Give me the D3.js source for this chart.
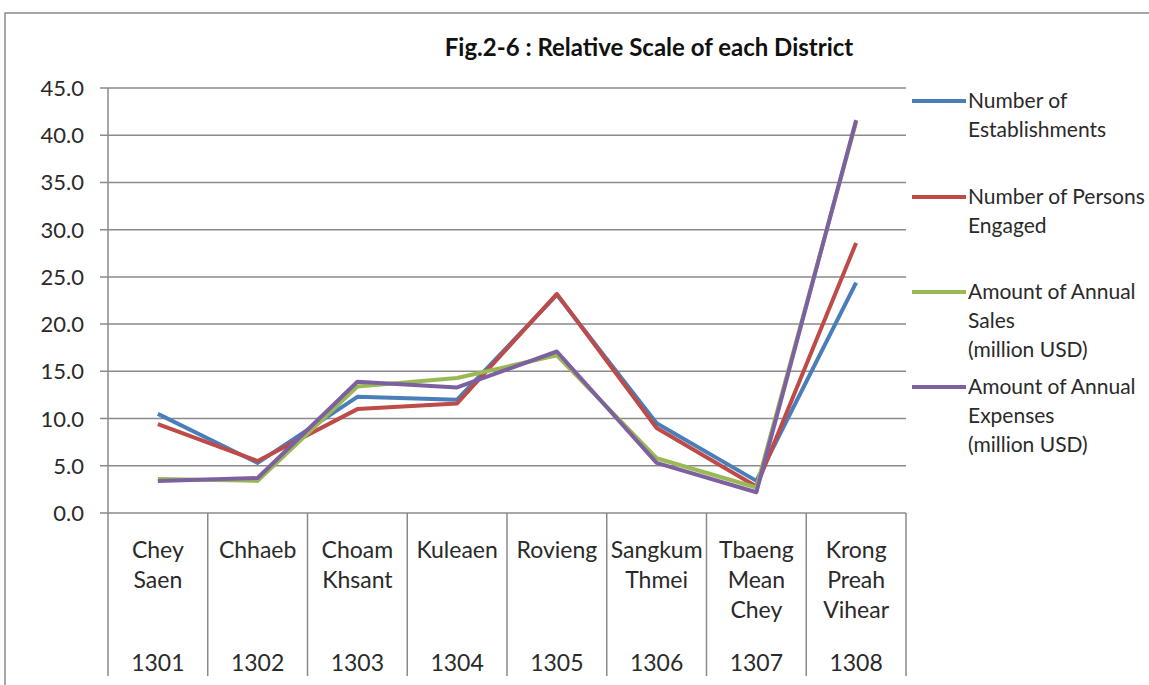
<!DOCTYPE html>
<html>
<head>
<meta charset="utf-8">
<script src="https://cdn.jsdelivr.net/npm/d3@7"></script>
<style>
  body { margin: 0; background: #fff; }
  svg { display: block; font-family: Lato, "Open Sans", sans-serif; }
</style>
</head>
<body>
<script>
// data
var codes = ["1301", "1302", "1303", "1304", "1305", "1306", "1307", "1308"];
var districts = [["Chey", "Saen"], ["Chhaeb"], ["Choam", "Khsant"], ["Kuleaen"], ["Rovieng"],
                 ["Sangkum", "Thmei"], ["Tbaeng", "Mean", "Chey"], ["Krong", "Preah", "Vihear"]];
var establishments = [10.5, 5.3, 12.3, 12.0, 23.1, 9.5, 3.4, 24.4];
var persons = [9.4, 5.5, 11.0, 11.6, 23.2, 9.0, 2.8, 28.6];
var sales = [3.6, 3.4, 13.4, 14.3, 16.7, 5.8, 2.7, 41.4];
var expenses = [3.4, 3.7, 13.9, 13.3, 17.1, 5.3, 2.2, 41.6];
var yTicks = [0, 5, 10, 15, 20, 25, 30, 35, 40, 45];

var seriesNames = [["Number of", "Establishments"], ["Number of Persons", "Engaged"],
                   ["Amount of Annual", "Sales", "(million USD)"], ["Amount of Annual", "Expenses", "(million USD)"]];
var seriesColors = ["#4a7ebb", "#be4b48", "#98b954", "#7d60a0"];

var series = [establishments, persons, sales, expenses];

var w = 1149, h = 685;
var plotLeft = 108, plotRight = 906, plotTop = 88, plotBottom = 513;

var svg = d3.select("body").append("svg")
    .attr("width", w)
    .attr("height", h);

// chart border
svg.append("rect")
    .attr("x", 5).attr("y", 13)
    .attr("width", w + 20).attr("height", h + 20)
    .attr("fill", "none")
    .attr("stroke", "#8c8c8c")
    .attr("stroke-width", 1.5);

var x = d3.scaleBand().domain(codes).range([plotLeft, plotRight]);
var y = d3.scaleLinear().domain([0, 45]).range([plotBottom, plotTop]);

// gridlines + ticks
svg.selectAll(".grid")
    .data(yTicks)
    .enter().append("line")
    .attr("x1", plotLeft - 8).attr("x2", plotRight)
    .attr("y1", function(d) { return y(d); })
    .attr("y2", function(d) { return y(d); })
    .attr("stroke", "#8a8a8a")
    .attr("stroke-width", 1.5);

svg.selectAll(".ylab")
    .data(yTicks)
    .enter().append("text")
    .attr("x", 84)
    .attr("y", function(d) { return y(d) + 8; })
    .attr("text-anchor", "end")
    .attr("font-size", "22px")
    .attr("fill", "#2a2a2a")
    .text(d3.format(".1f"));

// y axis line and category separators
svg.append("line")
    .attr("x1", plotLeft).attr("x2", plotLeft)
    .attr("y1", plotTop).attr("y2", plotBottom)
    .attr("stroke", "#8a8a8a").attr("stroke-width", 1.5);

var bounds = codes.map(function(c) { return x(c); }).concat([plotRight]);
svg.selectAll(".sep")
    .data(bounds)
    .enter().append("line")
    .attr("x1", function(d) { return d; })
    .attr("x2", function(d) { return d; })
    .attr("y1", plotBottom).attr("y2", 676)
    .attr("stroke", "#8a8a8a").attr("stroke-width", 1.5);

// category labels
var cat = svg.selectAll(".cat")
    .data(codes)
    .enter().append("g")
    .attr("transform", function(d) { return "translate(" + (x(d) + x.bandwidth() / 2) + ",0)"; });

cat.selectAll("text.name")
    .data(function(d, i) { return districts[i]; })
    .enter().append("text")
    .attr("y", function(d, j) { return 558 + j * 30; })
    .attr("text-anchor", "middle")
    .attr("font-size", "23px")
    .attr("fill", "#2a2a2a")
    .text(function(d) { return d; });

cat.append("text")
    .attr("y", 671)
    .attr("text-anchor", "middle")
    .attr("font-size", "23px")
    .attr("fill", "#2a2a2a")
    .text(function(d) { return d; });

// lines
var line = d3.line()
    .x(function(d, i) { return x(codes[i]) + x.bandwidth() / 2; })
    .y(function(d) { return y(d); });

svg.selectAll(".series")
    .data(series)
    .enter().append("path")
    .attr("d", line)
    .attr("fill", "none")
    .attr("stroke", function(d, i) { return seriesColors[i]; })
    .attr("stroke-width", 4)
    .attr("stroke-linejoin", "round");

// legend
var legY = [101, 197, 292, 387];
var leg = svg.selectAll(".leg")
    .data(seriesNames)
    .enter().append("g")
    .attr("transform", function(d, i) { return "translate(912," + legY[i] + ")"; });

leg.append("line")
    .attr("x1", 0).attr("x2", 54)
    .attr("stroke", function(d, i) { return seriesColors[i]; })
    .attr("stroke-width", 4);

leg.selectAll("text")
    .data(function(d) { return d; })
    .enter().append("text")
    .attr("x", 56)
    .attr("y", function(d, j) { return 7 + j * 29; })
    .attr("font-size", "21px")
    .attr("fill", "#2a2a2a")
    .text(function(d) { return d; });

// title
svg.append("text")
    .attr("x", 649)
    .attr("y", 56)
    .attr("text-anchor", "middle")
    .attr("font-size", "24px")
    .attr("font-weight", "bold")
    .attr("fill", "#111")
    .text("Fig.2-6 : Relative Scale of each District");
</script>
</body>
</html>
